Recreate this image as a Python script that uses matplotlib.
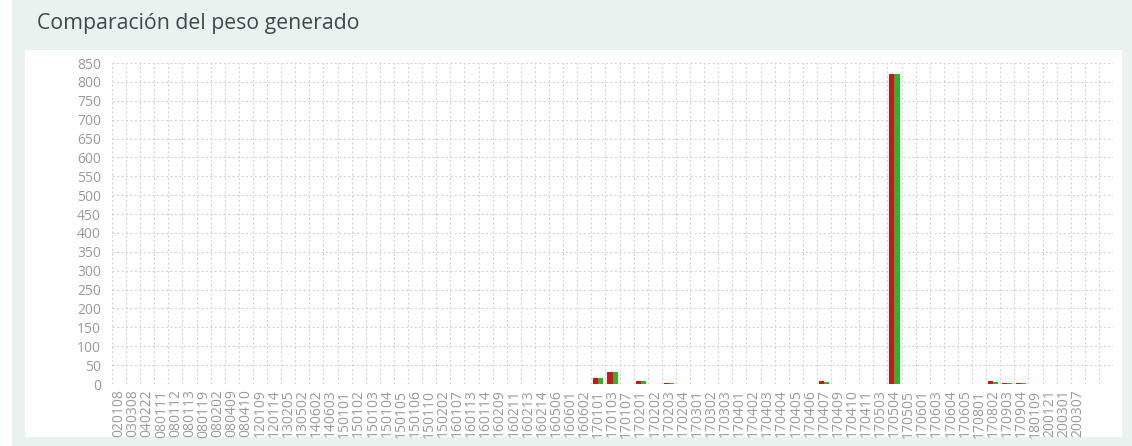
import matplotlib
matplotlib.use("Agg")
import matplotlib.pyplot as plt
from matplotlib.patches import Rectangle
import matplotlib.transforms as mtransforms
import numpy as np

# categorias (codigos de residuo) y pesos por serie
codigos = ['020108', '030308', '040222', '080111', '080112', '080113', '080119',
           '080202', '080409', '080410', '120109', '120114', '130205', '130502',
           '140602', '140603', '150101', '150102', '150103', '150104', '150105',
           '150106', '150110', '150202', '160107', '160113', '160114', '160209',
           '160211', '160213', '160214', '160506', '160601', '160602', '170101',
           '170103', '170107', '170201', '170202', '170203', '170204', '170301',
           '170302', '170303', '170401', '170402', '170403', '170404', '170405',
           '170406', '170407', '170409', '170410', '170411', '170503', '170504',
           '170505', '170601', '170603', '170604', '170605', '170801', '170802',
           '170903', '170904', '180109', '200121', '200301', '200307', '', '']

peso_rojo = [0, 1, 0, 0, 0, 0, 0, 0, 0, 0, 0, 0, 0, 0, 0, 0, 0, 0, 0, 0, 0,
             0, 0, 0, 0, 0, 0, 0, 0, 0, 0, 0, 0, 0, 16, 31, 0, 7, 0, 1.5, 0, 0,
             1, 0, 0, 0, 0, 0, 0, 0, 7, 0, 0, 0, 0, 822, 0, 0, 0, 0, 0, 0, 7,
             1.5, 1.5, 0, 0, 0, 0, 0, 0]
peso_verde = [0, 1, 0, 0, 0, 0, 0, 0, 0, 0, 0, 0, 0, 0, 0, 0, 0, 0, 0, 0, 0,
              0, 0, 0, 0, 0, 0, 0, 0, 0, 0, 0, 0, 0, 16, 31, 0, 7, 0, 1.5, 0, 0,
              1, 0, 0, 0, 0, 0, 0, 0, 6, 0, 0, 0, 0, 822, 0, 0, 0, 0, 0, 0, 6,
              1.5, 1.5, 0, 0, 0, 0, 0, 0]

W, H = 1132, 446
fig = plt.figure(figsize=(W / 100, H / 100), dpi=100)
fig.patch.set_facecolor('white')

# fondo de la tarjeta y panel blanco
fig.add_artist(Rectangle((12 / W, 0), 1 - 12 / W, 1, transform=fig.transFigure,
                         facecolor='#eaf2ef', edgecolor='none', zorder=-2))
fig.add_artist(Rectangle((25 / W, (H - 437) / H), (1122 - 25) / W, (437 - 50) / H,
                         transform=fig.transFigure, facecolor='white',
                         edgecolor='none', zorder=-1))
fig.text(37 / W, 1 - 23 / H, 'Comparación del peso generado', family='Open Sans',
         fontsize=15.3, color='#3d4a4b', va='center', ha='left')

ax = fig.add_axes([112 / W, (H - 384) / H, (1113 - 112) / W, (384 - 63) / H])
ax.set_facecolor('white')

x = np.arange(len(codigos))
bw = 0.36
ax.bar(x - bw / 2, peso_rojo, width=bw, color='#cc1515', zorder=3)
ax.bar(x + bw / 2, peso_verde, width=bw, color='#2cb52c', zorder=3)

ax.set_xlim(-0.5, len(codigos) - 0.5)
ax.set_ylim(0, 850)
ax.set_yticks(np.arange(0, 851, 50))
ax.set_xticks(x)
ax.set_xticklabels(codigos, rotation=90, fontsize=10, color='#9a9a9a',
                   family='Open Sans')
ax.set_xticks(np.arange(-0.5, len(codigos), 1), minor=True)
# las etiquetas del eje y quedan algo por encima de su linea
shift = mtransforms.ScaledTranslation(0, 5 / 100, fig.dpi_scale_trans)
for lbl in ax.get_yticklabels():
    lbl.set_color('#9a9a9a')
    lbl.set_fontsize(10)
    lbl.set_family('Open Sans')
    lbl.set_transform(lbl.get_transform() + shift)

ax.tick_params(axis='both', which='both', length=0)
ax.tick_params(axis='y', pad=8)
ax.tick_params(axis='x', pad=4)
ax.grid(axis='y', which='major', color='#d4d4d4', linestyle=(0, (2, 2)), linewidth=0.8)
ax.grid(axis='x', which='minor', color='#d4d4d4', linestyle=(0, (2, 2)), linewidth=0.8)
ax.set_axisbelow(True)
for s in ax.spines.values():
    s.set_visible(False)

fig.savefig('out.png', dpi=100, facecolor=fig.get_facecolor())
